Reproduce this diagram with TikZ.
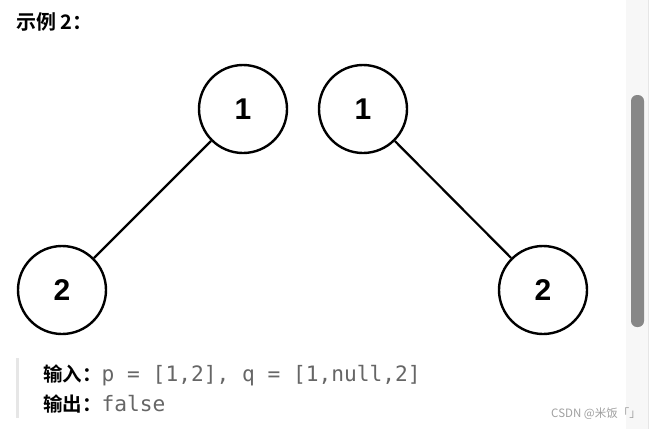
\documentclass[tikz,border=0pt]{standalone}
\usepackage{fontspec}
\setmainfont{Liberation Sans}
\newfontfamily\cjkb[BoldFont={Noto Sans CJK SC Bold}]{Noto Sans CJK SC}
\newfontfamily\cjk{Noto Sans CJK SC}
\newfontfamily\monof{DejaVu Sans Mono}
\definecolor{codegray}{HTML}{666666}
\definecolor{barcol}{HTML}{E6E6E6}
\definecolor{thumb}{HTML}{878787}
\definecolor{trackbg}{HTML}{F7F7F7}
\definecolor{wm}{HTML}{A0A0A0}
\begin{document}
\begin{tikzpicture}[x=1pt,y=-1pt,
  treenode/.style={circle,draw=black,line width=2.4pt,minimum size=88pt,inner sep=0pt,font=\fontsize{30}{30}\selectfont\bfseries},
  edge/.style={line width=2.2pt,black}]
\useasboundingbox (0,0) rectangle (651,429);
\fill[white] (0,0) rectangle (651,429);
% scrollbar
\fill[trackbg] (626,0) rectangle (648,429);
\draw[barcol,line width=1pt] (648.5,0) -- (648.5,429);
\fill[thumb,rounded corners=6pt] (631,95) rectangle (644,327);
% title
\node[anchor=west,inner sep=0pt] (title) at (16,22) {\fontsize{20}{20}\selectfont\cjkb\bfseries 示例 2：};
% trees
\node[treenode] (a1) at (243,109) {1};
\node[treenode] (a2) at (62,290) {2};
\node[treenode] (b1) at (363,109) {1};
\node[treenode] (b2) at (543,290) {2};
\draw[edge] (a1) -- (a2);
\draw[edge] (b1) -- (b2);
% quote block
\fill[barcol] (16,358) rectangle (19,418);
\node[anchor=west,inner sep=0pt] (in) at (43,375) {\fontsize{19.5}{20}\selectfont\cjkb\bfseries 输入：\monof\mdseries\color{codegray}\fontsize{21.2}{20}\selectfont p = [1,2], q = [1,null,2]};
\node[anchor=west,inner sep=0pt] (out) at (43,404) {\fontsize{19.5}{20}\selectfont\cjkb\bfseries 输出：\monof\mdseries\color{codegray}\fontsize{21.2}{20}\selectfont false};
% watermark
\node[anchor=east,inner sep=0pt,text=wm] (wmk) at (641,414) {\fontsize{11.5}{12}\selectfont\cjk CSDN @米饭「」};
\end{tikzpicture}
\end{document}
